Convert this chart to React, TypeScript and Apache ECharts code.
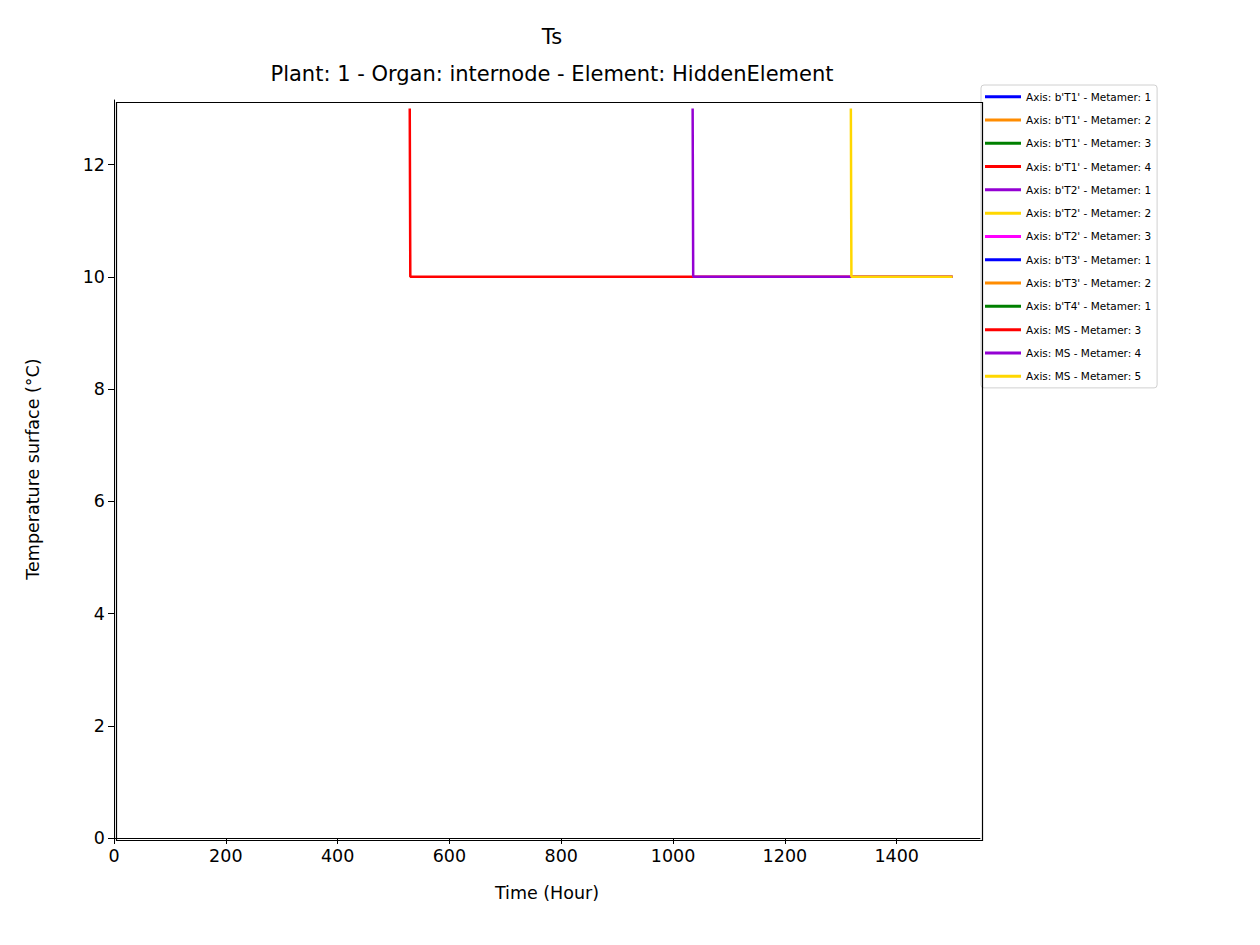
import React, { useEffect, useRef } from "react";
import * as echarts from "echarts";

const seriesNames = [
  "Axis: b'T1' - Metamer: 1",
  "Axis: b'T1' - Metamer: 2",
  "Axis: b'T1' - Metamer: 3",
  "Axis: b'T1' - Metamer: 4",
  "Axis: b'T2' - Metamer: 1",
  "Axis: b'T2' - Metamer: 2",
  "Axis: b'T2' - Metamer: 3",
  "Axis: b'T3' - Metamer: 1",
  "Axis: b'T3' - Metamer: 2",
  "Axis: b'T4' - Metamer: 1",
  "Axis: MS - Metamer: 3",
  "Axis: MS - Metamer: 4",
  "Axis: MS - Metamer: 5",
];
const seriesColors = [
  "#0000ff", "#ff8c00", "#008000", "#ff0000", "#9400d3", "#ffd700", "#ff00ff",
  "#0000ff", "#ff8c00", "#008000", "#ff0000", "#9400d3", "#ffd700",
];
const ms3: number[][] = [[529, 13.0], [530, 10], [1500, 10]];
const ms4: number[][] = [[1035, 13.0], [1036, 10], [1500, 10]];
const ms5: number[][] = [[1318, 13.0], [1319, 10], [1500, 10]];
const seriesData: number[][][] = [[], [], [], [], [], [], [], [], [], [], ms3, ms4, ms5];

export default function App() {
  const ref = useRef<HTMLDivElement>(null);
  useEffect(() => {
    const chart = echarts.init(ref.current!, null, { renderer: "svg" });
    const font = "DejaVu Sans";
    chart.setOption({
      animation: false,
      textStyle: { fontFamily: font },
      title: [
        { text: "Ts", left: 547, top: 21, textAlign: "center", textStyle: { fontSize: 21, fontWeight: "normal", color: "#000", fontFamily: font } },
        { text: "Plant: 1 - Organ: internode - Element: HiddenElement", left: 547, top: 58, textAlign: "center", textStyle: { fontSize: 21, fontWeight: "normal", color: "#000", fontFamily: font } },
      ],
      graphic: [
        { type: "rect", left: 114, top: 100, shape: { width: 866, height: 738 }, style: { fill: "none", stroke: "#000", lineWidth: 1.2 }, silent: true, z: 10 },
      ],
      legend: {
        orient: "vertical",
        left: 981,
        top: 85,
        data: seriesNames,
        icon: "rect",
        itemWidth: 36,
        itemHeight: 3,
        itemGap: 10,
        padding: [5, 6, 5, 4],
        borderColor: "#d0d0d0",
        borderWidth: 1,
        borderRadius: 3,
        textStyle: { fontSize: 10.5, lineHeight: 13.3, color: "#000", fontFamily: font },
      },
      grid: { left: 114, top: 100, width: 866, height: 738 },
      xAxis: {
        type: "value", min: 0, max: 1549, interval: 200,
        name: "Time (Hour)", nameLocation: "middle", nameGap: 46,
        nameTextStyle: { fontSize: 17.5, color: "#000" },
        axisLine: { onZero: false, lineStyle: { color: "#000" } },
        axisTick: { show: true, length: 6, lineStyle: { color: "#000" } },
        axisLabel: { fontSize: 17.5, color: "#000", margin: 9, showMaxLabel: false, formatter: (v: number) => String(v) },
        splitLine: { show: false },
      },
      yAxis: {
        type: "value", min: 0, max: 13.15, interval: 2,
        name: "Temperature surface (°C)", nameLocation: "middle", nameGap: 72,
        nameTextStyle: { fontSize: 17.5, color: "#000" },
        axisLine: { show: true, lineStyle: { color: "#000" } },
        axisTick: { show: true, length: 6, lineStyle: { color: "#000" } },
        axisLabel: { fontSize: 17.5, color: "#000", margin: 9, showMaxLabel: false },
        splitLine: { show: false },
      },
      series: seriesNames.map((n, i) => ({
        name: n, type: "line", data: seriesData[i], showSymbol: false,
        color: seriesColors[i], lineStyle: { width: 2.5, color: seriesColors[i] },
      })),
    });
    return () => chart.dispose();
  }, []);
  return <div ref={ref} style={{ position: "fixed", left: 0, top: 0, width: 1260, height: 945, background: "#fff" }} />;
}
